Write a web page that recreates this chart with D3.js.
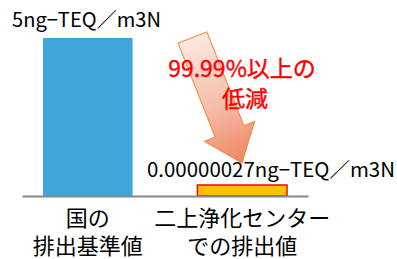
<!DOCTYPE html>
<html>
<head>
<meta charset="utf-8">
<script src="https://cdn.jsdelivr.net/npm/d3@7"></script>
<style>
  html, body { margin: 0; padding: 0; background: #fff; }
  svg { display: block; font-family: "Noto Sans CJK JP", "Noto Sans", sans-serif; }
</style>
</head>
<body>
<svg id="chart" width="397" height="259"></svg>
<script>
// Data.
const categories = [["国の", "排出基準値"], ["二上浄化センター", "での排出値"]];
const values = [5, 0.00000027];
const valueLabels = ["5ng−TEQ／m3N", "0.00000027ng−TEQ／m3N"];
const noteLines = ["99.99%以上の", "低減"];

const width = 397, height = 259;
const axisY = 196;

const svg = d3.select("#chart");

// x as band scale, bars sit between 22 and 308.
const xScale = d3.scaleBand()
  .domain(d3.range(values.length))
  .range([22, 308])
  .paddingInner(0.42)
  .paddingOuter(0.136);

// y linear, 5 at the top of the blue bar.
const yScale = d3.scaleLinear()
  .domain([0, 5])
  .range([axisY, 38]);

// Tiny value would vanish, so give it a visible minimum like the original.
const minBarPx = 11;
const barTop = (d) => Math.min(yScale(d), axisY - minBarPx);

// Gradient for the arrow.
const defs = svg.append("defs");
const grad = defs.append("linearGradient")
  .attr("id", "arrowGrad")
  .attr("x1", 0).attr("y1", 0).attr("x2", 0).attr("y2", 1);
grad.append("stop").attr("offset", "0%").attr("stop-color", "#fce8e1");
grad.append("stop").attr("offset", "55%").attr("stop-color", "#f5bca8");
grad.append("stop").attr("offset", "100%").attr("stop-color", "#ef8560");

// Bars
const fills = ["#3ea6d8", "#ffc000"];
svg.append("g")
  .selectAll("rect")
  .data(values)
  .join("rect")
  .attr("x", (d, i) => xScale(i))
  .attr("y", (d) => barTop(d))
  .attr("width", xScale.bandwidth())
  .attr("height", (d) => axisY - barTop(d))
  .attr("fill", (d, i) => fills[i])
  .attr("stroke", (d, i) => i === 1 ? "#ff0000" : "none")
  .attr("stroke-width", 1.5);

// Baseline axis with no ticks.
const axis = svg.append("g")
  .attr("transform", `translate(0, ${axisY})`)
  .call(d3.axisBottom(xScale).tickSize(0).tickSizeOuter(0).tickFormat(""));
axis.select(".domain").attr("stroke", "#888").attr("stroke-width", 2);
axis.selectAll(".tick text").remove();

// Category labels, one text per line.
const catLines = categories.flatMap((lines, i) => lines.map((t, j) => ({ t, i, j })));
svg.append("g")
  .selectAll("text")
  .data(catLines)
  .join("text")
  .attr("text-anchor", "middle")
  .attr("font-size", 22)
  .attr("fill", "#000")
  .attr("x", (d) => xScale(d.i) + xScale.bandwidth() / 2)
  .attr("y", (d) => 226 + d.j * 28)
  .text((d) => d.t);

// Value labels
svg.append("text")
  .attr("x", 12).attr("y", 27)
  .attr("font-size", 20)
  .attr("fill", "#000")
  .attr("textLength", 149)
  .attr("lengthAdjust", "spacingAndGlyphs")
  .text(valueLabels[0]);

svg.append("text")
  .attr("x", 147).attr("y", 177)
  .attr("font-size", 20)
  .attr("fill", "#000")
  .attr("textLength", 248)
  .attr("lengthAdjust", "spacingAndGlyphs")
  .text(valueLabels[1]);

// Arrow pointing down to the small bar.
const start = [192.5, 37.5], tip = [242, 163];
const len = Math.hypot(tip[0] - start[0], tip[1] - start[1]);
const ang = Math.atan2(tip[0] - start[0], tip[1] - start[1]) * 180 / Math.PI;
const bodyW = 15.5, headW = 27, headL = 34;
const arrowPts = [
  [-bodyW, 0], [bodyW, 0], [bodyW, len - headL], [headW, len - headL],
  [0, len], [-headW, len - headL], [-bodyW, len - headL]
];
svg.append("path")
  .attr("transform", `translate(${start}) rotate(${-ang})`)
  .attr("d", d3.line()(arrowPts) + "Z")
  .attr("fill", "url(#arrowGrad)")
  .attr("stroke", "#f0883c")
  .attr("stroke-width", 1)
  .attr("stroke-linejoin", "miter");

// Note text on top of the arrow, one text per line.
svg.append("g")
  .selectAll("text")
  .data(noteLines)
  .join("text")
  .attr("text-anchor", "middle")
  .attr("font-size", 23)
  .attr("fill", "#ff0000")
  .attr("stroke", "#ff0000")
  .attr("stroke-width", 0.4)
  .attr("x", (d, i) => i === 0 ? 242 : 245)
  .attr("y", (d, i) => 77 + i * 30)
  .text((d) => d);
</script>
</body>
</html>
